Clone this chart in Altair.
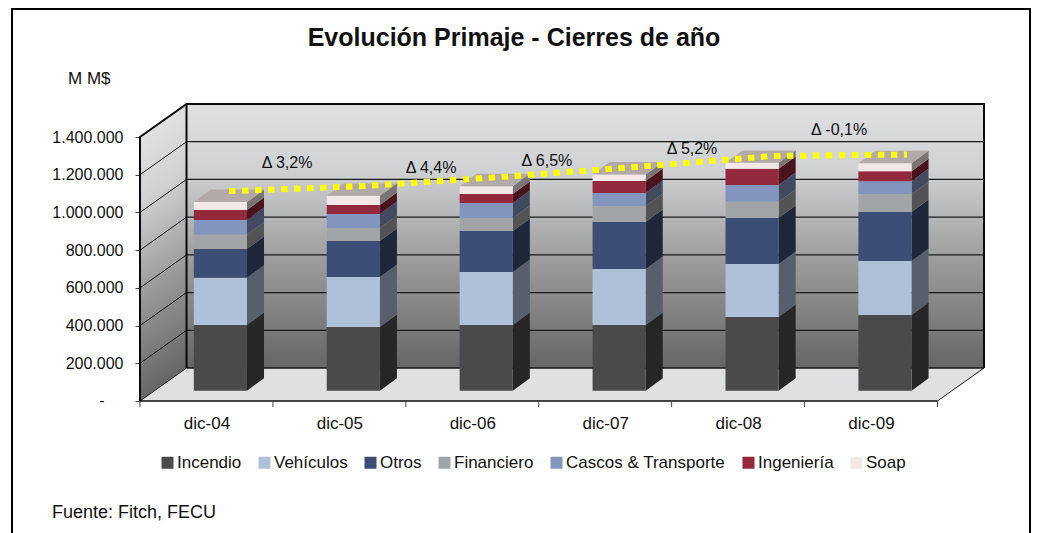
import altair as alt
import pandas as pd

categories = ["dic-04", "dic-05", "dic-06", "dic-07", "dic-08", "dic-09"]
series_names = ["Incendio", "Vehículos", "Otros", "Financiero", "Cascos & Transporte", "Ingeniería", "Soap"]
incendio = [348000, 338000, 348000, 348000, 391000, 401000]
vehiculos = [251000, 265000, 281000, 297000, 281000, 286000]
otros = [152000, 191000, 217000, 249000, 244000, 260000]
financiero = [76000, 69000, 69000, 85000, 85000, 95000]
cascos = [78000, 74000, 80000, 69000, 90000, 69000]
ingenieria = [53000, 48000, 48000, 64000, 85000, 53000]
soap = [42000, 48000, 41000, 34000, 32000, 42000]
all_series = [incendio, vehiculos, otros, financiero, cascos, ingenieria, soap]

front_colors = ["#4a4a4c", "#afc1d8", "#3c4e75", "#a2a5a8", "#8395bc", "#93293c", "#f3e8e8"]
side_colors = ["#252627", "#585f6c", "#1e263a", "#525354", "#414a5e", "#49141e", "#7a7474"]
top_color = "#b3a9a9"

trend_x = [0.67, 1.69, 2.71, 3.73, 4.75, 5.77]
trend_y = [1113000, 1140000, 1188000, 1241000, 1299000, 1307000]

delta_labels = ["\u0394 3,2%", "\u0394 4,4%", "\u0394 6,5%", "\u0394 5,2%", "\u0394 -0,1%"]
delta_x = [1.106, 2.19, 3.062, 4.153, 5.26]
delta_y = [1262000, 1236000, 1273000, 1336000, 1437000]

y_ticks = [0, 200000, 400000, 600000, 800000, 1000000, 1200000, 1400000]

FONT = "Liberation Sans"
W_DX, W_DY = 0.35, 175000          # wall depth
B_DX, B_DY = 0.128, 66000          # bar depth
B_BASE = 55000                     # bar floor offset
B_LEFT, B_W = 0.405, 0.40          # bar position in each category

xs = alt.Scale(domain=[0, 6 + W_DX], nice=False, zero=False)
ys = alt.Scale(domain=[0, 1400000 + W_DY], nice=False, zero=False)

cat_js = "[" + ",".join(f"'{c}'" for c in categories) + "]"
AX_X = alt.Axis(values=[i + 0.5 for i in range(6)], title=None, domain=False, ticks=False, grid=False,
                labelExpr=f"{cat_js}[round(datum.value-0.5)]", labelPadding=22, labelFontSize=17,
                labelColor="#111111", labelFont=FONT, labelBaseline="middle")
AX_Y = alt.Axis(values=y_ticks, title=None, domain=False, grid=False, tickSize=5, tickColor="#444444",
                labelExpr="datum.value==0?'':replace(format(datum.value,','),/,/g,'.')",
                labelPadding=12, labelFontSize=16, labelColor="#111111", labelFont=FONT)


def X(f="x"):
    return alt.X(f"{f}:Q", scale=xs, axis=AX_X)


def Y(f="y"):
    return alt.Y(f"{f}:Q", scale=ys, stack=None, axis=AX_Y)


stops = [alt.GradientStop(color="#dfe0e2", offset=0), alt.GradientStop(color="#d0d1d3", offset=0.25),
         alt.GradientStop(color="#9b9b9b", offset=0.6), alt.GradientStop(color="#666666", offset=1)]

# ---- back wall
wall_df = pd.DataFrame({"x": [W_DX], "x2": [6 + W_DX], "y": [W_DY], "y2": [1400000 + W_DY]})
back = alt.Chart(wall_df).mark_rect(
    color=alt.Gradient(gradient="linear", x1=0, y1=0, x2=0, y2=1, stops=stops)
).encode(x=X(), x2="x2:Q", y=Y(), y2="y2:Q")

# ---- left wall
left_df = pd.DataFrame({"x": [0, W_DX], "y": [0, W_DY], "y2": [1400000, 1400000 + W_DY]})
left = alt.Chart(left_df).mark_area(
    color=alt.Gradient(gradient="linear", x1=0, y1=0.113, x2=0.099, y2=0.989, stops=stops)
).encode(x=X(), y=Y(), y2="y2:Q")

# ---- floor
floor_df = pd.DataFrame({"x": [0, W_DX, 6, 6 + W_DX], "y": [0, W_DY, W_DY, W_DY], "y2": [0, 0, 0, W_DY]})
floor = alt.Chart(floor_df).mark_area(color="#dfe0e2").encode(x=X(), y=Y(), y2="y2:Q")

# ---- grid lines
grid_h = pd.DataFrame({"x": W_DX, "x2": 6 + W_DX, "y": [v + W_DY for v in y_ticks[:-1]]})
grid_back = alt.Chart(grid_h).mark_rule(color="#1a1a1a", strokeWidth=1.3).encode(x=X(), x2="x2:Q", y=Y())
slant = pd.DataFrame([{"k": v, "x": x, "y": v + d} for v in y_ticks[:-1] for x, d in ((0, 0), (W_DX, W_DY))])
grid_left = alt.Chart(slant).mark_line(color="#111111", strokeWidth=1).encode(x=X(), y=Y(), detail="k:N")

# ---- outline of the box
edges = pd.DataFrame([
    {"k": "a", "x": 0, "y": 0}, {"k": "a", "x": 0, "y": 1400000},
    {"k": "a", "x": W_DX, "y": 1400000 + W_DY}, {"k": "a", "x": 6 + W_DX, "y": 1400000 + W_DY},
    {"k": "a", "x": 6 + W_DX, "y": W_DY},
    {"k": "b", "x": W_DX, "y": 1400000 + W_DY}, {"k": "b", "x": W_DX, "y": W_DY},
])
edge_lines = alt.Chart(edges.assign(o=range(len(edges)))).mark_line(color="#0a0a0a", strokeWidth=2).encode(
    x=X(), y=Y(), detail="k:N", order="o:Q")
base_line = alt.Chart(pd.DataFrame({"x": [0], "x2": [6], "y": [0]})).mark_rule(color="#0a0a0a", strokeWidth=1.6).encode(
    x=X(), x2="x2:Q", y=Y())
floor_edge = alt.Chart(pd.DataFrame({"x": [6, 6 + W_DX], "y": [0, W_DY]})).mark_line(color="#111111", strokeWidth=1).encode(
    x=X(), y=Y())
x_ticks = alt.Chart(pd.DataFrame({"x": list(range(7))})).mark_rule(color="#444444", strokeWidth=1).encode(
    x=X(), y=alt.value(297), y2=alt.value(303))

# ---- page frame (left, top, right)
f_left = alt.Chart(pd.DataFrame({"t": [0]})).mark_rule(color="black", strokeWidth=2).encode(
    x=alt.value(-128), y=alt.value(-96), y2=alt.value(429))
f_right = alt.Chart(pd.DataFrame({"t": [0]})).mark_rule(color="black", strokeWidth=2).encode(
    x=alt.value(890), y=alt.value(-96), y2=alt.value(429))
f_top = alt.Chart(pd.DataFrame({"t": [0]})).mark_rule(color="black", strokeWidth=2).encode(
    x=alt.value(-129), x2=alt.value(891), y=alt.value(-95))

# ---- bars
front_rows, side_rows, top_rows = [], [], []
for i in range(len(categories)):
    base = float(B_BASE)
    xl, xr = i + B_LEFT, i + B_LEFT + B_W
    for name, vals in zip(series_names, all_series):
        top = base + vals[i]
        front_rows.append({"series": name, "x": xl, "x2": xr, "y": base, "y2": top})
        key = f"{i}-{name}"
        side_rows.append({"key": key, "series": name, "x": xr, "y": base, "y2": top})
        side_rows.append({"key": key, "series": name, "x": xr + B_DX, "y": base + B_DY, "y2": top + B_DY})
        base = top
    for x, y, y2 in ((xl, base, base), (xl + B_DX, base + B_DY, base), (xr, base + B_DY, base), (xr + B_DX, base + B_DY, base + B_DY)):
        top_rows.append({"key": i, "x": x, "y": y, "y2": y2})

legend = alt.Legend(title=None, orient="none", legendX=19, legendY=350, direction="horizontal", columns=7,
                    symbolType="square", symbolSize=144, symbolStrokeWidth=0, symbolOpacity=1,
                    labelFont=FONT, labelFontSize=17, labelColor="#111111", labelOffset=1, columnPadding=14)
front = alt.Chart(pd.DataFrame(front_rows)).mark_rect().encode(
    x=X(), x2="x2:Q", y=Y(), y2="y2:Q",
    color=alt.Color("series:N", sort=series_names, scale=alt.Scale(domain=series_names, range=front_colors), legend=legend))
side = alt.Chart(pd.DataFrame(side_rows)).mark_area().encode(
    x=X(), y=Y(), y2="y2:Q", detail="key:N",
    color=alt.Color("series:N", sort=series_names, scale=alt.Scale(domain=series_names, range=side_colors), legend=None))
tops = alt.Chart(pd.DataFrame(top_rows)).mark_area(color=top_color).encode(x=X(), y=Y(), y2="y2:Q", detail="key:N")

# ---- trend
trend = alt.Chart(pd.DataFrame({"x": trend_x, "y": trend_y})).mark_line(
    color="#ffff00", strokeWidth=6, strokeDash=[6.5, 6.5]).encode(x=X(), y=Y())
deltas = alt.Chart(pd.DataFrame({"x": delta_x, "y": delta_y, "t": delta_labels})).mark_text(
    font=FONT, fontSize=16, color="#111111").encode(x=X(), y=Y(), text="t:N")

# ---- free texts
zero_label = alt.Chart(pd.DataFrame({"y": [0], "t": ["-"]})).mark_text(font=FONT, fontSize=16, color="#111111").encode(
    x=alt.value(-38), y=Y(), text="t:N")
unit = alt.Chart(pd.DataFrame({"t": ["M M$"]})).mark_text(font=FONT, fontSize=17, color="#111111", align="left").encode(
    x=alt.value(-72), y=alt.value(-25), text="t:N")
source = alt.Chart(pd.DataFrame({"t": ["Fuente: Fitch, FECU"]})).mark_text(font=FONT, fontSize=18, color="#111111", align="left").encode(
    x=alt.value(-88), y=alt.value(409), text="t:N")

chart = alt.layer(
    back, left, floor, grid_back, grid_left, edge_lines, base_line, floor_edge, x_ticks, f_left, f_right, f_top,
    side, front, tops, trend, deltas, zero_label, unit, source
).resolve_scale(color="independent").properties(
    width=844, height=297, background="white",
    padding={"left": 132, "top": 96, "right": 47, "bottom": 132},
    autosize=alt.AutoSizeParams(type="none"),
    title=alt.TitleParams("Evolución Primaje - Cierres de año", font=FONT, fontSize=25, fontWeight="bold",
                          color="#111111", anchor="middle", dx=-48, offset=0, dy=44),
).configure_view(stroke=None)

chart.save("out.html", embed_options={"renderer": "svg", "actions": False})
